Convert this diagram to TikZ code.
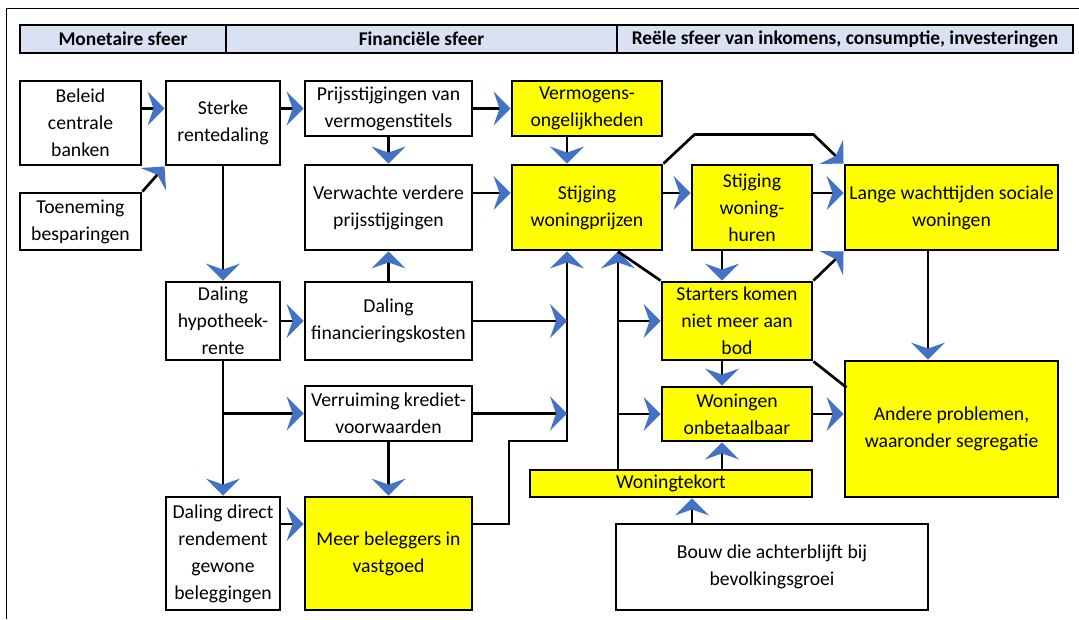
\documentclass[tikz,border=0pt]{standalone}
\usepackage{fontspec}
\setmainfont{Carlito}
\usepackage{xcolor}
\usetikzlibrary{arrows.meta,calc}
\definecolor{tipblue}{HTML}{4472C4}
\definecolor{hdrblue}{HTML}{D9E1F2}
\definecolor{boxyellow}{HTML}{FFFF00}
\tikzset{
  sz/.style 2 args={minimum width=#1*0.025cm, minimum height=#2*0.025cm},
  wbox/.style={draw, line width=2.1pt, fill=white, align=center, inner sep=1.5pt,
    font=\fontsize{14pt}{19.2pt}\selectfont},
  ybox/.style={wbox, fill=boxyellow},
  hdr/.style={draw, line width=2.1pt, fill=hdrblue, inner sep=1pt,
    font=\fontsize{13.8pt}{19.2pt}\selectfont\bfseries},
  arr/.style={line width=1.9pt, -{Stealth[length=12pt,width=24pt,inset=4.2pt,color=tipblue]}},
  link/.style={line width=1.9pt}
}
\begin{document}
\begin{tikzpicture}[x=0.025cm, y=-0.025cm]
  \useasboundingbox (0,0) rectangle (1079,619);
  \draw[line width=0.7pt] (6,619) -- (6,8) -- (1079,8);

  \node[hdr, sz={206}{28}] (hmon) at (123,39) {Monetaire sfeer};
  \node[hdr, sz={391}{28}] (hfin) at (421.5,39) {Financiële sfeer};
  \node[hdr, sz={456}{28}] (hree) at (845,39) {Reële sfeer van inkomens, consumptie, investeringen};

  \node[wbox, sz={121}{84}] (beleid) at (80.5,123) {Beleid\\centrale\\banken};
  \node[wbox, sz={121}{57}] (toeneming) at (80.5,221.5) {Toeneming\\besparingen};
  \node[wbox, sz={114}{84}] (sterke) at (223,123) {Sterke\\rentedaling};
  \node[wbox, sz={167}{55}] (prijs) at (388.5,108.5) {Prijsstijgingen van\\vermogenstitels};
  \node[ybox, sz={150}{55}] (vermogens) at (587,108.5) {Vermogens-\\ongelijkheden};
  \node[wbox, sz={167}{85}] (verwacht) at (388.5,207.5) {Verwachte verdere\\prijsstijgingen};
  \node[ybox, sz={150}{85}] (woningprijzen) at (587,207.5) {Stijging\\woningprijzen};
  \node[ybox, sz={120}{85}] (huren) at (752,207.5) {Stijging\\woning-\\huren};
  \node[ybox, sz={213}{85}] (lange) at (951.5,207.5) {Lange wachttijden sociale\\woningen};
  \node[wbox, sz={114}{78}] (hypotheek) at (223,321) {Daling\\hypotheek-\\rente};
  \node[wbox, sz={167}{78}] (financiering) at (388.5,321) {Daling\\financieringskosten};
  \node[ybox, sz={150}{78}] (starters) at (737,321) {Starters komen\\niet meer aan\\bod};
  \node[wbox, sz={167}{55}] (verruiming) at (388.5,413.5) {Verruiming krediet-\\voorwaarden};
  \node[ybox, sz={150}{54}] (onbetaalbaar) at (737,414) {Woningen\\onbetaalbaar};
  \node[ybox, sz={213}{136}] (andere) at (951.5,429) {Andere problemen,\\waaronder segregatie};
  \node[ybox, sz={282}{27}, inner sep=0.5pt] (tekort) at (671,483.5) {Woningtekort};
  \node[wbox, sz={114}{113}] (direct) at (223,553.5) {Daling direct\\rendement\\gewone\\beleggingen};
  \node[ybox, sz={167}{113}] (beleggers) at (388.5,553.5) {Meer beleggers in\\vastgoed};
  \node[wbox, sz={312}{86}] (bouw) at (772,567) {Bouw die achterblijft bij\\bevolkingsgroei};

  \coordinate (rowA) at (0,193);
  \coordinate (rowD) at (0,524);
  \coordinate (busL) at (567,441);
  \coordinate (bend) at (509,441);
  \coordinate (busR) at (618,470);
  \coordinate (colS) at (722,0);
  \coordinate (colB) at (692,0);
  \coordinate (colL) at (928,0);

  \draw[arr] (beleid.east |- prijs) -- (sterke.west |- prijs);
  \draw[arr] (toeneming.north east) -- (sterke.south west);
  \draw[arr] (sterke.east |- prijs) -- (prijs.west);
  \draw[arr] (prijs.east) -- (vermogens.west);
  \draw[arr] (prijs) -- (verwacht);
  \draw[arr] (vermogens.south -| busL) -- (woningprijzen.north -| busL);
  \draw[arr] (verwacht.east |- rowA) -- (woningprijzen.west |- rowA);
  \draw[arr] (woningprijzen.east |- rowA) -- (huren.west |- rowA);
  \draw[arr] (huren.east |- rowA) -- (lange.west |- rowA);
  \draw[arr] (sterke) -- (hypotheek);
  \draw[arr] (financiering) -- (verwacht);
  \draw[arr] (hypotheek) -- (financiering);
  \draw[arr] (hypotheek.south) |- (verruiming.west);
  \draw[arr] (hypotheek) -- (direct);
  \draw[arr] (verruiming) -- (beleggers);
  \draw[arr] (direct.east |- rowD) -- (beleggers.west |- rowD);
  \draw[arr] (beleggers.east |- rowD) -| (bend) -- (busL) -- (woningprijzen.south -| busL);
  \draw[arr] (financiering) -- (financiering -| busL);
  \draw[arr] (verruiming) -- (verruiming -| busL);
  \draw[arr] (tekort.north -| busR) -- (woningprijzen.south -| busR);
  \draw[arr] (busR |- starters) -- (starters);
  \draw[arr] (busR |- onbetaalbaar) -- (onbetaalbaar);
  \draw[link] (woningprijzen.south -| busR) -- (starters.north west);
  \draw[arr] (huren.south -| colS) -- (starters.north -| colS);
  \draw[arr] (starters.south -| colS) -- (onbetaalbaar.north -| colS);
  \draw[arr] (tekort.north -| colS) -- (onbetaalbaar.south -| colS);
  \draw[arr] (bouw.north -| colB) -- (tekort.south -| colB);
  \draw[arr] (woningprijzen.north east) -- ++(31,-29) -- ++(119,0) -- (lange.north west);
  \draw[arr] (starters.north east) -- (lange.south west);
  \draw[link] (starters.south east) -- ++(33,26);
  \draw[arr] (lange.south -| colL) -- (andere.north -| colL);
  \draw[arr] (onbetaalbaar) -- (onbetaalbaar -| andere.west);
\end{tikzpicture}
\end{document}
